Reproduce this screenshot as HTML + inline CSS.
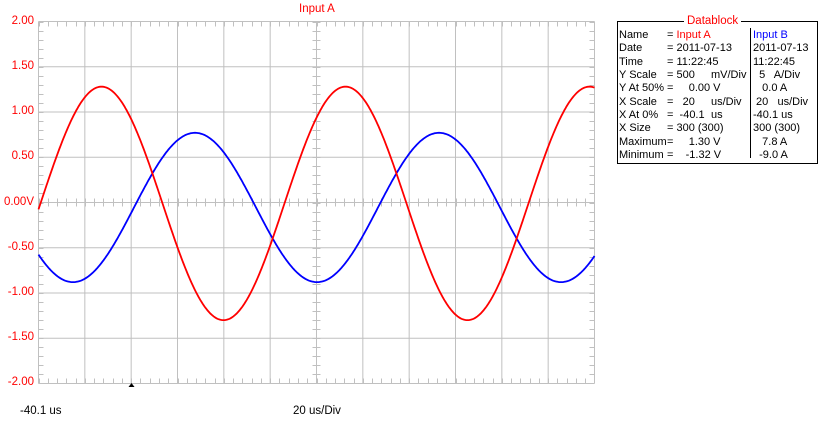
<!DOCTYPE html>
<html><head><meta charset="utf-8"><style>
body{margin:0;background:#fff;width:818px;height:422px;overflow:hidden;position:relative;font-family:"Liberation Sans",sans-serif;font-size:11px}
.t{position:absolute;white-space:pre;line-height:13px}
.r{color:#f00}.b{color:#00f}
.yl{position:absolute;color:#f00;font-size:11.5px;text-align:right;width:34px;left:0;line-height:13px}
</style></head><body>
<svg id="s" width="818" height="422" style="position:absolute;left:0;top:0"></svg>
<div class="t r" style="left:299px;top:3px;font-size:11.5px">Input A</div>
<div class="yl" style="top:15px">2.00</div>
<div class="yl" style="top:60px">1.50</div>
<div class="yl" style="top:105px">1.00</div>
<div class="yl" style="top:150px">0.50</div>
<div class="yl" style="top:196px">0.00V</div>
<div class="yl" style="top:241px">-0.50</div>
<div class="yl" style="top:286px">-1.00</div>
<div class="yl" style="top:331px">-1.50</div>
<div class="yl" style="top:376px">-2.00</div>
<div class="t" style="left:20px;top:405px;font-size:11.5px">-40.1 us</div>
<div class="t" style="left:293px;top:405px;font-size:11.5px">20 us/Div</div>
<div style="position:absolute;left:617px;top:21px;width:199px;height:141px;border:1px solid #000"></div>
<div style="position:absolute;left:750px;top:28px;width:1px;height:130px;background:#000"></div>
<div class="t r" style="left:684px;top:15px;background:#fff;padding:0 3px;font-size:11.5px">Datablock</div>
<div id="db"></div>
<script>
const NS="http://www.w3.org/2000/svg",s=document.getElementById('s');
function el(n,a){const e=document.createElementNS(NS,n);for(const k in a)e.setAttribute(k,a[k]);s.appendChild(e);return e;}
const L=38.5,R=594.5,T=21.5,B=383.5,dx=(R-L)/12,dy=(B-T)/8,cx=L+6*dx,cy=T+4*dy;
for(let i=0;i<=12;i++){const x=L+i*dx;el('line',{x1:x,y1:T,x2:x,y2:B,stroke:'#c0c0c0'});}
for(let j=0;j<=8;j++){const y=T+j*dy;el('line',{x1:L,y1:y,x2:R,y2:y,stroke:'#c0c0c0'});}
for(let i=0;i<60;i++){const x=Math.round(L+i*dx/5)+0.5;
 el('line',{x1:x,y1:T,x2:x,y2:T+5,stroke:'#c0c0c0'});
 el('line',{x1:x,y1:B,x2:x,y2:B-5,stroke:'#c0c0c0'});
 el('line',{x1:x,y1:cy-4,x2:x,y2:cy+4,stroke:'#c0c0c0'});}
for(let j=0;j<40;j++){const y=Math.round(T+j*dy/5)+0.5;
 el('line',{x1:L,y1:y,x2:L+5,y2:y,stroke:'#c0c0c0'});
 el('line',{x1:R,y1:y,x2:R-5,y2:y,stroke:'#c0c0c0'});
 el('line',{x1:cx-4,y1:y,x2:cx+4,y2:y,stroke:'#c0c0c0'});}
const k=dy*2;
function wave(off,amp,x0,col){let p=[];for(let x=L;x<=R;x+=1){const v=off+amp*Math.sin(2*Math.PI*(x-x0)/244);p.push(x.toFixed(1)+','+(cy-v*k).toFixed(1));}
 el('polyline',{points:p.join(' '),fill:'none',stroke:col,'stroke-width':1.8});}
wave(-0.055,0.825,134,'#00f');
wave(-0.01,1.29,40.5,'#f00');
el('polygon',{points:'128.5,387 131.5,383 134.5,387',fill:'#000'});
const rows=[["Name","= ","Input A","","Input B"],["Date","= 2011-07-13","","","2011-07-13"],["Time","= 11:22:45","","","11:22:45"],["Y Scale","= 500","","mV/Div","  5   A/Div"],["Y At 50%","=     0.00 V","","","   0.0 A"],["X Scale","=   20","","us/Div"," 20   us/Div"],["X At 0%","=  -40.1","","us","-40.1 us"],["X Size","= 300 (300)","","","300 (300)"],["Maximum","=     1.30 V","","","   7.8 A"],["Minimum","=    -1.32 V","","","  -9.0 A"]];
let h='';rows.forEach((r,i)=>{const y=29+i*13.33;
 h+=`<div class="t" style="left:619px;top:${y}px">${r[0]}</div>`;
 h+=`<div class="t" style="left:667px;top:${y}px">${r[1]}${r[2]?'<span class="r">'+r[2]+'</span>':''}</div>`;
 if(r[3])h+=`<div class="t" style="left:711px;top:${y}px">${r[3]}</div>`;
 h+=`<div class="t${i==0?' b':''}" style="left:753px;top:${y}px">${r[4]}</div>`;});
document.getElementById('db').innerHTML=h;
</script>
</body></html>
